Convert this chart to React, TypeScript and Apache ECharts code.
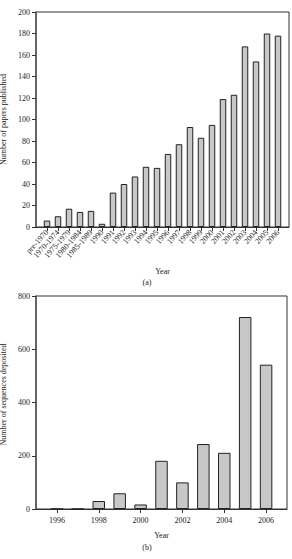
import React, { useEffect, useRef } from "react";
import * as echarts from "echarts";

// Papers published per period
const paperPeriods = [
  "pre-1970", "1970-1974", "1975-1979", "1980-1984", "1985-1989", "1990",
  "1991", "1992", "1993", "1994", "1995", "1996", "1997", "1998", "1999",
  "2000", "2001", "2002", "2003", "2004", "2005", "2006",
];
const paperCounts = [
  6, 10, 17, 14, 15, 3, 32, 40, 47, 56, 55, 68, 77, 93, 83, 95, 119, 123,
  168, 154, 180, 178,
];

// Sequences deposited per year
const seqYears = [1996, 1997, 1998, 1999, 2000, 2001, 2002, 2003, 2004, 2005, 2006];
const seqCounts = [0, 0, 30, 59, 17, 181, 100, 244, 211, 721, 542];
const seqYearLabels = [1996, 1998, 2000, 2002, 2004, 2006];

const FONT = "Liberation Serif";
const TXT = "#222";

export default function App() {
  const ref = useRef<HTMLDivElement>(null);

  useEffect(() => {
    if (!ref.current) return;
    const chart = echarts.init(ref.current, null, { renderer: "svg" });

    const barStyle = { color: "#c8c8c8", borderColor: "#222", borderWidth: 1 };
    const yAxisLine = { show: true, onZero: false, lineStyle: { color: "#555", width: 1.5 } };
    const xAxisLine = { show: true, onZero: false, lineStyle: { color: "#333", width: 1 } };
    const tickStyle = { show: true, length: 4, inside: false, lineStyle: { color: "#333", width: 1 } };
    const labelBase = { fontFamily: FONT, fontSize: 8, color: TXT };

    chart.setOption({
      animation: false,
      backgroundColor: "#fff",
      grid: [
        {
          left: 36, top: 12, width: 253, height: 215,
          show: true, borderColor: "#333", borderWidth: 1,
          outerBoundsMode: "none", containLabel: false,
        },
        {
          left: 36, top: 296, width: 251, height: 213,
          show: true, borderColor: "#333", borderWidth: 1,
          outerBoundsMode: "none", containLabel: false,
        },
      ],
      xAxis: [
        {
          type: "value",
          gridIndex: 0,
          min: -1,
          max: 22,
          splitLine: { show: false },
          axisLine: xAxisLine,
          axisTick: { ...tickStyle, customValues: paperPeriods.map((_, i) => i) },
          axisLabel: {
            ...labelBase,
            lineHeight: 6,
            rotate: 48,
            margin: 4,
            hideOverlap: false,
            customValues: paperPeriods.map((_, i) => i),
            formatter: (v: number) => paperPeriods[v] ?? "",
          },
          name: "Year",
          nameLocation: "middle",
          nameGap: 40,
          nameTextStyle: { ...labelBase, verticalAlign: "top" },
        },
        {
          type: "value",
          gridIndex: 1,
          min: 1995,
          max: 2007,
          splitLine: { show: false },
          axisLine: xAxisLine,
          axisTick: { ...tickStyle, customValues: seqYearLabels },
          axisLabel: {
            ...labelBase,
            margin: 7,
            customValues: seqYearLabels,
            formatter: (v: number) => String(v),
          },
          name: "Year",
          nameLocation: "middle",
          nameGap: 22,
          nameTextStyle: { ...labelBase, verticalAlign: "top" },
        },
      ],
      yAxis: [
        {
          type: "value",
          gridIndex: 0,
          min: 0,
          max: 200,
          interval: 20,
          splitLine: { show: false },
          axisLine: yAxisLine,
          axisTick: tickStyle,
          axisLabel: { ...labelBase, margin: 6 },
          name: "Number of papers published",
          nameLocation: "middle",
          nameGap: 20,
          nameTextStyle: { ...labelBase },
        },
        {
          type: "value",
          gridIndex: 1,
          min: 0,
          max: 800,
          interval: 200,
          splitLine: { show: false },
          axisLine: yAxisLine,
          axisTick: tickStyle,
          axisLabel: { ...labelBase, margin: 6 },
          name: "Number of sequences deposited",
          nameLocation: "middle",
          nameGap: 20,
          nameTextStyle: { ...labelBase, padding: [0, 0, 0, 16] },
        },
      ],
      series: [
        {
          type: "bar",
          xAxisIndex: 0,
          yAxisIndex: 0,
          barWidth: 6.5,
          itemStyle: barStyle,
          data: paperCounts.map((v, i) => [i, v]),
        },
        {
          type: "bar",
          xAxisIndex: 1,
          yAxisIndex: 1,
          barWidth: 12.5,
          itemStyle: barStyle,
          data: seqCounts.map((v, i) => [seqYears[i], v]),
        },
      ],
      graphic: [
        {
          type: "text",
          x: 147,
          y: 282,
          style: { text: "(a)", fontFamily: FONT, fontSize: 8, fill: TXT, align: "center", verticalAlign: "middle" },
        },
        {
          type: "text",
          x: 147,
          y: 547,
          style: { text: "(b)", fontFamily: FONT, fontSize: 8, fill: TXT, align: "center", verticalAlign: "middle" },
        },
      ],
    });

    return () => chart.dispose();
  }, []);

  return (
    <div
      ref={ref}
      style={{ position: "absolute", left: 0, top: 0, width: 292, height: 559 }}
    />
  );
}
